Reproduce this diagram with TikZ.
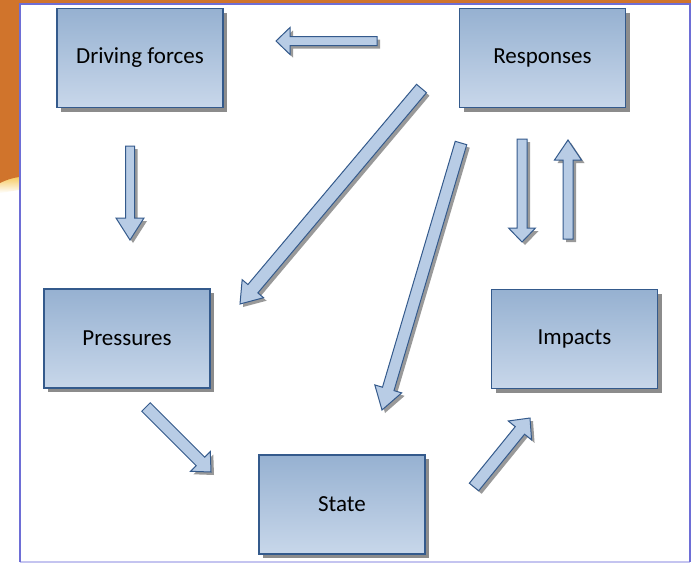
\documentclass[tikz,border=0pt]{standalone}
\usepackage{fontspec}
\setmainfont{Carlito}
\usetikzlibrary{calc,shadows}

\definecolor{orangebg}{RGB}{208,116,44}
\definecolor{glow}{RGB}{246,200,90}
\definecolor{frameblue}{RGB}{110,110,214}
\definecolor{framelight}{RGB}{196,196,240}
\definecolor{boxtop}{RGB}{150,177,209}
\definecolor{boxbot}{RGB}{200,215,234}
\definecolor{boxline}{RGB}{52,90,140}
\definecolor{arrowfill}{RGB}{184,204,229}

\tikzset{
  stage/.style={draw=boxline, line width=1.2pt, top color=boxtop, bottom color=boxbot,
    minimum width=166pt, minimum height=99pt, inner sep=0pt,
    font=\fontsize{23}{27}\selectfont,
    drop shadow={shadow xshift=4pt, shadow yshift=-4pt, fill=black!45, opacity=1}},
  blockarrow/.style={draw=boxline, line width=1pt, fill=arrowfill, line join=miter,
    drop shadow={shadow xshift=3pt, shadow yshift=-3pt, fill=black!40, opacity=1}},
}

% block arrow: tail, tip, shaft half-width, head half-width, head length
\newcommand\blockarr[5]{%
  \coordinate (hb) at ($(#2)!#5!(#1)$);
  \draw[blockarrow]
    ($(#1)!#3!90:(#2)$) -- ($(hb)!#3!-90:(#1)$) -- ($(hb)!#4!-90:(#1)$) -- (#2)
    -- ($(hb)!#4!90:(#1)$) -- ($(hb)!#3!90:(#1)$) -- ($(#1)!#3!-90:(#2)$) -- cycle;
}

\begin{document}
\begin{tikzpicture}[x=1pt, y=-1pt]
  \useasboundingbox (0,0) rectangle (691,563);
  \fill[white] (0,0) rectangle (691,563);

  % orange slide background peeking out around the frame
  \shade[top color=glow, bottom color=white] (0,180) .. controls (8,178) and (14,177) .. (19,176)
    -- (19,190) .. controls (12,191) and (6,192) .. (0,193) -- cycle;
  \fill[orangebg] (0,0) -- (691,0) -- (691,4) -- (19,4) -- (19,177)
    .. controls (12,178) and (6,180) .. (0,183) -- cycle;
  \fill[orangebg] (689,0) rectangle (691,140);
  \shade[top color=glow, bottom color=white] (689,140) rectangle (691,205);

  % frame
  \draw[framelight, line width=2pt] (19.5,562) -- (689.5,562);
  \draw[frameblue, line width=2pt] (19.5,562) -- (19.5,4) -- (689.5,4) -- (689.5,562);

  % stages
  \node[stage] (driving)   at (140,58)    {Driving forces};
  \node[stage] (responses) at (542.5,58)  {Responses};
  \node[stage] (pressures) at (127,338.5) {Pressures};
  \node[stage] (impacts)   at (574.5,339) {Impacts};
  \node[stage] (state)     at (342,504.5) {State};

  % arrow ends
  \coordinate (r2d-a) at (377,41);    \coordinate (r2d-b) at (276,41);
  \coordinate (d2p-a) at (130,146);   \coordinate (d2p-b) at (130,240);
  \coordinate (r2p-a) at (421.5,88.5); \coordinate (r2p-b) at (240,304);
  \coordinate (r2s-a) at (461,143);   \coordinate (r2s-b) at (382,410);
  \coordinate (r2i-a) at (522,139);   \coordinate (r2i-b) at (522,242);
  \coordinate (i2r-a) at (568,239);   \coordinate (i2r-b) at (568,140);
  \coordinate (p2s-a) at (146,407);   \coordinate (p2s-b) at (211,472);
  \coordinate (s2i-a) at (474,487);   \coordinate (s2i-b) at (530,418);

  \blockarr{r2d-a}{r2d-b}{4.5pt}{13.5pt}{14pt}
  \blockarr{d2p-a}{d2p-b}{4.5pt}{14pt}{22pt}
  \blockarr{r2p-a}{r2p-b}{6.5pt}{14pt}{20pt}
  \blockarr{r2s-a}{r2s-b}{6pt}{14pt}{22pt}
  \blockarr{r2i-a}{r2i-b}{5pt}{13.5pt}{14pt}
  \blockarr{i2r-a}{i2r-b}{5pt}{13.5pt}{20pt}
  \blockarr{p2s-a}{p2s-b}{6pt}{14pt}{15pt}
  \blockarr{s2i-a}{s2i-b}{6pt}{15pt}{16pt}
\end{tikzpicture}
\end{document}
